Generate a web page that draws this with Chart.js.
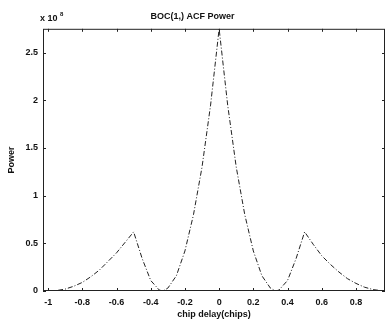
<!DOCTYPE html>
<html>
<head>
  <title>BOC(1,) ACF Power</title>
  <style>
    html, body { margin: 0; padding: 0; background: #fff; }
    #wrap { width: 387px; height: 321px; }
  </style>
</head>
<body>
  <div id="wrap"><canvas id="chart"></canvas></div>
  <script src="https://cdn.jsdelivr.net/npm/chart.js"></script>
  <script>
    // chip delay (chips) and power (x 10^8)
    var delay = [-1, -0.95, -0.9, -0.85, -0.8, -0.75, -0.7, -0.65, -0.6, -0.55, -0.5,
      -0.45, -0.4, -0.35, -0.33, -0.3, -0.25, -0.2, -0.15, -0.1, -0.05, 0,
      0.05, 0.1, 0.15, 0.2, 0.25, 0.3, 0.33, 0.35, 0.4, 0.45, 0.5,
      0.55, 0.6, 0.65, 0.7, 0.75, 0.8, 0.85, 0.9, 0.95];
    var power = [0, 0.005, 0.02, 0.05, 0.09, 0.15, 0.22, 0.31, 0.40, 0.51, 0.62,
      0.34, 0.11, 0.01, 0, 0.03, 0.16, 0.42, 0.8, 1.3, 1.95, 2.75,
      1.95, 1.3, 0.8, 0.42, 0.16, 0.03, 0, 0.01, 0.11, 0.34, 0.62,
      0.49, 0.37, 0.28, 0.2, 0.13, 0.08, 0.04, 0.015, 0.003];
    var xTicks = [-1, -0.8, -0.6, -0.4, -0.2, 0, 0.2, 0.4, 0.6, 0.8];
    var yTicks = [0, 0.5, 1, 1.5, 2, 2.5];

    var points = delay.map(function (d, i) { return { x: d, y: power[i] }; });
    var font = { family: 'Liberation Sans', size: 9, weight: 'bold' };

    // matlab style box with inward ticks, plus the exponent label
    var boxPlugin = {
      id: 'box',
      afterDraw: function (chart) {
        var c = chart.ctx, a = chart.chartArea;
        var xs = chart.scales.x, ys = chart.scales.y;
        c.save();
        c.strokeStyle = '#222';
        c.lineWidth = 1;
        c.strokeRect(a.left + 0.5, a.top + 0.5, a.right - a.left - 1, a.bottom - a.top - 1);
        c.beginPath();
        xTicks.forEach(function (t) {
          var px = Math.round(xs.getPixelForValue(t)) + 0.5;
          c.moveTo(px, a.bottom); c.lineTo(px, a.bottom - 3);
          c.moveTo(px, a.top); c.lineTo(px, a.top + 3);
        });
        yTicks.forEach(function (t) {
          var py = Math.round(ys.getPixelForValue(t)) + 0.5;
          c.moveTo(a.left, py); c.lineTo(a.left + 3, py);
          c.moveTo(a.right, py); c.lineTo(a.right - 3, py);
        });
        c.stroke();
        c.fillStyle = '#111';
        c.textBaseline = 'alphabetic';
        c.font = 'bold 9px "Liberation Sans"';
        c.fillText('x 10', 40, 21);
        c.font = 'bold 6px "Liberation Sans"';
        c.fillText('8', 60, 16);
        c.restore();
      }
    };

    new Chart(document.getElementById('chart'), {
      type: 'line',
      data: {
        datasets: [{
          data: points,
          borderColor: '#222',
          borderWidth: 1,
          borderDash: [5, 2, 1, 2],
          pointRadius: 0,
          tension: 0,
          fill: false
        }]
      },
      options: {
        responsive: true,
        maintainAspectRatio: false,
        animation: false,
        layout: { padding: { left: 0, right: 2, top: 0, bottom: 0 } },
        plugins: {
          legend: { display: false },
          tooltip: { enabled: false },
          title: {
            display: true,
            text: 'BOC(1,) ACF Power',
            color: '#111',
            font: font,
            padding: { top: 11, bottom: 7 }
          }
        },
        scales: {
          x: {
            type: 'linear',
            min: -1.03,
            max: 0.97,
            afterBuildTicks: function (s) { s.ticks = xTicks.map(function (v) { return { value: v }; }); },
            afterFit: function (s) { s.height = 30; },
            grid: { display: false, drawTicks: false },
            border: { display: false },
            ticks: {
              color: '#111', font: font, padding: 6, maxRotation: 0, autoSkip: false,
              callback: function (v) { return String(Number(v.toFixed(1))); }
            },
            title: { display: true, text: 'chip delay(chips)', color: '#111', font: font, padding: { top: 2, bottom: 1 } }
          },
          y: {
            min: 0,
            max: 2.75,
            afterBuildTicks: function (s) { s.ticks = yTicks.map(function (v) { return { value: v }; }); },
            afterFit: function (s) { s.width = 43; },
            grid: { display: false, drawTicks: false },
            border: { display: false },
            ticks: {
              color: '#111', font: font, padding: 5, autoSkip: false,
              callback: function (v) { return String(Number(v.toFixed(1))); }
            },
            title: { display: true, text: 'Power', color: '#111', font: font, padding: { top: 6, bottom: 0 } }
          }
        }
      },
      plugins: [boxPlugin]
    });
  </script>
</body>
</html>
